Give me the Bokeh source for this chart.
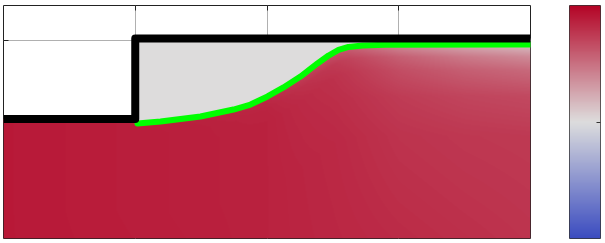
import numpy as np
from bokeh.plotting import figure
from bokeh.models import LinearColorMapper, FixedTicker, Range1d, CustomLabelingPolicy
from bokeh.layouts import row
from bokeh.embed import file_html
from bokeh.resources import INLINE

# ---------------- data ----------------
x_ticks = [1, 2, 3]
y_ticks = [1.5]
colorbar_ticks = [0]

# wall (black) geometry
wall_x = [0.0, 1.0, 1.0, 4.0]
wall_y = [0.905, 0.905, 1.515, 1.515]

# interface (green) curve
interface_x = [1.017, 1.192, 1.495, 1.746, 1.875, 2.004, 2.125, 2.254, 2.383, 2.467, 2.543, 2.619, 2.725, 2.899, 4.0]
interface_y = [0.871, 0.886, 0.924, 0.977, 1.015, 1.076, 1.144, 1.227, 1.326, 1.386, 1.428, 1.451, 1.462, 1.468, 1.470]

# field value below the interface: columns at field_x, rows at depth below the interface
field_x = [0.0, 1.0, 1.5, 2.0, 2.5, 3.0, 3.5, 4.0]
field_depth = [0.0, 0.1, 0.2, 0.4, 0.7, 1.5]
field_values = [
    [0.90, 0.88, 0.86, 0.82, 0.62, 0.35, 0.20, 0.10],
    [0.90, 0.88, 0.87, 0.85, 0.75, 0.58, 0.46, 0.38],
    [0.90, 0.88, 0.87, 0.86, 0.79, 0.66, 0.58, 0.53],
    [0.90, 0.88, 0.87, 0.86, 0.81, 0.74, 0.70, 0.68],
    [0.90, 0.88, 0.87, 0.86, 0.83, 0.78, 0.76, 0.75],
    [0.90, 0.89, 0.88, 0.86, 0.84, 0.82, 0.80, 0.78],
]
gap_value = 0.0          # value in the region above the interface

colormap_anchors = ["#3b4cc0", "#dddddd", "#b40426"]
value_low, value_high = -1.0, 1.0

X_MAX, Y_MAX = 4.0, 1.765

# ---------------- palette ----------------
def hex_rgb(h):
    h = h.lstrip("#")
    return [int(h[i:i + 2], 16) for i in (0, 2, 4)]

anchors = np.array([hex_rgb(c) for c in colormap_anchors], dtype=float)
pos = np.linspace(0, 1, len(colormap_anchors))
t = np.linspace(0, 1, 256)
palette = ["#%02x%02x%02x" % tuple(int(round(np.interp(tt, pos, anchors[:, k]))) for k in range(3)) for tt in t]

mapper = LinearColorMapper(palette=palette, low=value_low, high=value_high, nan_color=(0, 0, 0, 0))

# ---------------- field image ----------------
top = wall_y[-1]
nx, ny = 527, 200
xs = (np.arange(nx) + 0.5) / nx * X_MAX
ys = (np.arange(ny) + 0.5) / ny * top
img = np.full((ny, nx), np.nan)
for j, x in enumerate(xs):
    if x < wall_x[1]:
        ceiling = wall_y[0]
        yi = wall_y[0]
    else:
        ceiling = top
        yi = np.interp(x, interface_x, interface_y)
    col = [np.interp(x, field_x, r) for r in field_values]
    depth = yi - ys
    vals = np.interp(depth, field_depth, col)
    vals[depth < 0] = gap_value
    vals[ys > ceiling] = np.nan
    img[:, j] = vals

NO_LABELS = "return new Set()"

def style_axis(ax, ticks, tick_len, color):
    ax.ticker = FixedTicker(ticks=ticks)
    ax.major_tick_in = tick_len
    ax.major_tick_out = 0
    ax.minor_tick_line_color = None
    ax.axis_line_color = None
    ax.major_tick_line_color = color
    ax.major_label_text_font_size = "0px"
    ax.major_label_standoff = 0
    ax.major_label_policy = CustomLabelingPolicy(code=NO_LABELS)

# ---------------- main figure ----------------
p = figure(width=535, height=243, x_range=Range1d(0, X_MAX), y_range=Range1d(0, Y_MAX),
           output_backend="svg", toolbar_location=None,
           x_axis_location="above", y_axis_location="left",
           min_border_left=3, min_border_right=5, min_border_top=5, min_border_bottom=5)
p.background_fill_color = "white"
p.border_fill_color = "white"
p.outline_line_color = "#222222"
p.outline_line_width = 1

style_axis(p.xaxis[0], x_ticks, 5, "#222222")
style_axis(p.yaxis[0], y_ticks, 5, "#222222")

p.xgrid.ticker = FixedTicker(ticks=x_ticks)
p.ygrid.ticker = FixedTicker(ticks=y_ticks)
p.xgrid.grid_line_color = "#b0b0b0"
p.ygrid.grid_line_color = "#b0b0b0"

p.image(image=[img], x=0, y=0, dw=X_MAX, dh=top, color_mapper=mapper)
p.line(interface_x, interface_y, line_color="#00ff00", line_width=6, line_cap="round", line_join="round")
p.line(wall_x, wall_y, line_color="black", line_width=8, line_join="round")

# ---------------- colour bar ----------------
cb = figure(width=70, height=243, x_range=Range1d(0, 1), y_range=Range1d(value_low, value_high),
            output_backend="svg", toolbar_location=None,
            x_axis_location=None, y_axis_location="right",
            min_border_left=34, min_border_right=5, min_border_top=5, min_border_bottom=5)
cb.grid.visible = False
cb.outline_line_color = "#333333"
cb.outline_line_width = 1
bar = np.linspace(value_low, value_high, 256).reshape(-1, 1)
cb.image(image=[bar], x=0, y=value_low, dw=1, dh=value_high - value_low, color_mapper=mapper)
style_axis(cb.yaxis[0], colorbar_ticks, 4, "#333333")

layout = row(p, cb)
open("out.html", "w").write(file_html(layout, INLINE))
